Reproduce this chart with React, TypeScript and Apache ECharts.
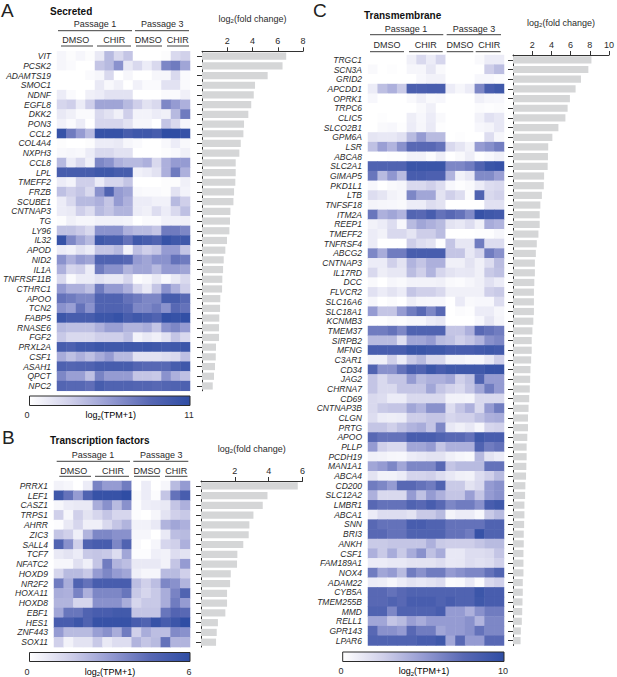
import * as echarts from 'echarts';
import { useEffect, useRef } from 'react';

const FONT = '"Liberation Sans", Arial, sans-serif';
const INK = '#2b2b2b';
const heatColors = ['#ffffff', '#d0d0ea', '#959bd2', '#5868b4', '#2f4da4'];

const samples = ['P1 DMSO a', 'P1 DMSO b', 'P1 DMSO c', 'P1 DMSO d', 'P1 CHIR a', 'P1 CHIR b', 'P1 CHIR c', 'P1 CHIR d', 'P3 DMSO a', 'P3 DMSO b', 'P3 DMSO c', 'P3 CHIR a', 'P3 CHIR b', 'P3 CHIR c'];

// A - secreted
const secretedGenes = ['VIT', 'PCSK2', 'ADAMTS19', 'SMOC1', 'NDNF', 'EGFL8', 'DKK2', 'PON3', 'CCL2', 'COL4A4', 'NXPH3', 'CCL8', 'LPL', 'TMEFF2', 'FRZB', 'SCUBE1', 'CNTNAP3', 'TG', 'LY96', 'IL32', 'APOD', 'NID2', 'IL1A', 'TNFRSF11B', 'CTHRC1', 'APOO', 'TCN2', 'FABP5', 'RNASE6', 'FGF2', 'PRXL2A', 'CSF1', 'ASAH1', 'QPCT', 'NPC2'];
const secretedFold = [6.67, 6.38, 5.2, 4.2, 4.1, 3.9, 3.67, 3.33, 3.28, 3.07, 2.96, 2.67, 2.67, 2.64, 2.54, 2.49, 2.25, 2.22, 2.17, 1.98, 1.85, 1.72, 1.67, 1.61, 1.59, 1.45, 1.43, 1.37, 1.35, 1.35, 1.11, 1.09, 1.03, 0.95, 0.85];
const secretedTpm = [
  [.5, .2, .5, .2, 1.3, 3.9, 2.2, 3.3, 0, 0, 0, .2, 2.2, 2.7],
  [.5, .3, 0, 0, 3.3, 3.9, 6, 1.3, 2.2, 1.1, 2.2, 6.6, 7.2, 5],
  [0, 0, 0, .3, .5, 2.2, 0, .5, 0, 0, .5, .5, 2.2, .3],
  [0, 0, 0, 0, 1.3, .4, .9, 0, .8, .3, .3, 1.7, 1.7, .3],
  [1.1, .3, 0, .9, 1.1, 1.7, 1.7, 1.7, 0, 0, 0, .3, .3, .9],
  [2.4, 2.8, 1.1, 2.8, 5, 5, 5, 3.9, 2.8, 1.7, 2.2, 6.6, 5.5, 4.4],
  [1.3, .9, .3, .3, 2.2, 1.7, .9, 2.8, .7, .7, 1.1, .9, 3.9, 7.2],
  [.8, .3, 1.1, 0, 2.4, 2.4, 2.4, 1.7, .5, .5, 0, 3.3, 2.2, .5],
  [10.5, 7.2, 5.5, 3.9, 10.5, 10.5, 10.5, 9.4, 9.9, 9.9, 9.4, 11, 11, 10.5],
  [.2, 0, 0, .2, 1.1, 1.1, 1.3, .5, .3, 0, 0, .4, 1.1, .4],
  [.4, .5, .4, 1.1, 2.2, 2.2, 1.7, 1.7, 0, 0, 0, .2, .4, .9],
  [3.9, 1.1, 2.2, .9, 6.6, 6, 4.4, 3.9, 3.9, 4.4, 2.2, 4.4, 5.5, 5.5],
  [9.4, 9.4, 9.4, 9.4, 9.9, 9.9, 9.4, 9.4, .8, 1.1, 1.7, 4.4, 7.2, 4.4],
  [1.1, .7, 2.8, 2.8, 1.1, 2.4, 2.4, 3.3, 0, 0, 0, .2, .2, .9],
  [3.6, 2.8, 3.3, 2.2, 6, 8.8, 5.5, 5, .4, .3, .3, .2, 1.7, .7],
  [1.1, 2.2, 3.9, 3.9, 4.4, 3.3, 5.5, 4.4, 1.1, 1.1, .8, .8, 3.9, 2.8],
  [1.1, 1.3, 2.8, 2, 3.9, 3.3, 4.2, 4.2, 1.1, .9, 2, 1.1, 2.2, 3.6],
  [.2, .9, .5, .5, .8, .8, .8, .7, 0, .3, .3, .8, .8, .9],
  [3.5, 3.5, 3, 2.2, 6, 6, 6, 4.4, 3.9, 3.9, 3.3, 7.2, 7.2, 6.6],
  [10.5, 6.6, 5, 3.9, 9.9, 9.4, 9.4, 7.7, 9.9, 9.4, 8.8, 10.5, 9.9, 9.9],
  [1.1, .8, 1.7, 1.1, 3.3, 3.3, 3.9, .7, 3.6, 2.8, 3.3, 5.5, 5.5, 3.3],
  [6, 4.4, 5.5, 5, 8.8, 8.8, 8.8, 8.3, 5.5, 5, 6, 6, 7.7, 7.2],
  [4.4, 2.4, 2.8, 1.1, 7.2, 6, 6, 4.2, 5, 5, 3.9, 5.5, 5.5, 5],
  [2.2, .3, 1.1, 1.1, 1.7, 1.3, 1.3, 2.4, .2, .5, 1.3, .4, 1.3, 2.2],
  [5.5, 4.4, 4.4, 3.6, 7.2, 5.5, 5.5, 4.4, 2.4, 1.3, 3.3, 6, 4.4, 2.8],
  [7.7, 7.2, 6.6, 6.6, 8.8, 8.8, 8.8, 7.7, 7.2, 6.6, 6.6, 9.4, 9.4, 8.3],
  [6, 5.3, 7.7, 6, 8.8, 8.8, 8.8, 8.3, 6.6, 6.6, 7.2, 6, 8.3, 7.7],
  [10.1, 9.4, 9.4, 9.4, 10.1, 10.1, 10.5, 9.4, 9.9, 9.4, 8.8, 10.8, 10.5, 10.8],
  [3.9, 3.6, 3.6, 3.6, 4.4, 5.3, 5.3, 4.2, 4.2, 4.6, 3.3, 6, 6.6, 5.5],
  [3.1, 2.2, 2.2, 2.2, 2.8, 2.8, 2.8, 3.6, .7, 1.3, .9, 1.7, 3.3, 2.2],
  [9.4, 9, 9.7, 9.7, 10.1, 9.9, 9.9, 9.9, 9.9, 10.1, 9.9, 9.7, 9.9, 10.1],
  [4.6, 3.6, 4.4, 3.6, 4.6, 5.5, 3.9, 3.9, 1.7, 1.7, 1.7, 2, 2.2, 3.6],
  [9, 8.6, 8.8, 8.8, 9.4, 9.4, 9.4, 9.4, 8.6, 8.3, 8.3, 8.3, 9.4, 9.9],
  [6.6, 5.3, 5.3, 3.6, 6.8, 5.5, 5.5, 5.5, 3.3, 3.3, 3.1, 6, 4.4, 3.6],
  [8.6, 8.3, 8.3, 7.9, 9.4, 8.8, 8.8, 8.8, 8.6, 8.6, 8.3, 8.6, 8.8, 9],
];

// B - transcription factors
const tfGenes = ['PRRX1', 'LEF1', 'CASZ1', 'TRPS1', 'AHRR', 'ZIC3', 'SALL4', 'TCF7', 'NFATC2', 'HOXD9', 'NR2F2', 'HOXA11', 'HOXD8', 'EBF1', 'HES1', 'ZNF443', 'SOX11'];
const tfFold = [5.72, 3.93, 3.65, 3.1, 2.86, 2.82, 2.5, 2.15, 2.13, 1.76, 1.72, 1.54, 1.54, 1.44, 1.0, 0.93, 0.89];
const tfTpm = [
  [.4, .3, 0, .6, 3.7, 3, 3, 3.9, 0, .6, 0, .3, 2.1, 3],
  [5.4, 4.2, 3, 4.8, 5.7, 5.7, 5.7, 6, .2, .6, .1, 1.8, 4.2, 5.1],
  [.3, .6, .7, .7, 2.5, 3.3, 2.1, 3.3, .1, .5, .6, .7, 1.8, 2.4],
  [1.5, .3, 1.5, .9, 1.3, 1.8, 1.3, 1.3, .1, 0, .3, .9, 1.5, 1.7],
  [.1, .7, 1.3, .5, .5, 1.2, 1.8, 2.3, .4, .4, .7, 2.3, 2.7, 2.4],
  [1.8, 1.5, .5, 2.3, 3.6, 3.6, 3.3, 3.3, .3, .3, 0, .7, 2, 2.1],
  [4.8, 3.3, 1.5, 4.8, 5.1, 5.1, 3.6, 4.8, .2, 0, .3, 1.3, 1.5, 2.4],
  [.7, .9, .6, 1.7, 1.8, 1.7, 1.1, 2.7, .1, .1, .5, .4, 1.1, .9],
  [.3, .3, 1, .5, 1.8, 3.9, 2.3, 2, .7, .7, .7, .4, 1.8, 3],
  [1.3, 2.1, 2.1, 1.7, 3, 3.6, 3, 2.7, .5, .3, .3, 2.1, 2.1, 1.5],
  [3.9, 2.5, 4.8, 4.2, 5.1, 5.1, 5.1, 5.1, 2, 1.5, 2, 3.6, 3.3, 2.3],
  [2.5, 2.4, 3.7, 2.4, 3.6, 3.6, 3.6, 4.1, 1.7, 1.3, 1.7, 2.5, 3.7, 4.8],
  [2.3, 2.3, 1.3, 1.3, 3.3, 3.3, 3.3, 2.5, 1.3, 1.7, 1.7, 2.5, 3.9, 3],
  [2.7, 4.1, 4.1, 4.8, 5.1, 5.1, 5.3, 5.3, 1.8, 1.8, 1.8, 4.1, 4.7, 4.5],
  [5.1, 5.1, 5.5, 4.8, 5.7, 5.7, 5.7, 5.7, 5.1, 4.8, 5.7, 5.1, 5.5, 6],
  [3, 2.1, 2.1, 2.1, 2.9, 3.3, 2.5, 3.9, 1.5, 2.5, 2, 2, 3.5, 3.3],
  [1.5, .4, .9, .9, 1.7, .7, 1.1, 1.1, 2.3, 1.8, 2.1, 4.2, 2.3, 2.3],
];

// C - transmembrane
const tmGenes = ['TRGC1', 'SCN3A', 'GRID2', 'APCDD1', 'OPRK1', 'TRPC6', 'CLIC5', 'SLCO2B1', 'GPM6A', 'LSR', 'ABCA8', 'SLC2A1', 'GIMAP5', 'PKD1L1', 'LTB', 'TNFSF18', 'ITM2A', 'REEP1', 'TMEFF2', 'TNFRSF4', 'ABCG2', 'CNTNAP3', 'IL17RD', 'DCC', 'FLVCR2', 'SLC16A6', 'SLC18A1', 'KCNMB3', 'TMEM37', 'SIRPB2', 'MFNG', 'C3AR1', 'CD34', 'JAG2', 'CHRNA7', 'CD69', 'CNTNAP3B', 'CLGN', 'PRTG', 'APOO', 'PLLP', 'PCDH19', 'MAN1A1', 'ABCA4', 'CD200', 'SLC12A2', 'LMBR1', 'ABCA1', 'SNN', 'BRI3', 'ANKH', 'CSF1', 'FAM189A1', 'NOX4', 'ADAM22', 'CYB5A', 'TMEM255B', 'MMD', 'RELL1', 'GPR143', 'LPAR6'];
const tmFold = [8.17, 7.85, 7.08, 6.52, 5.93, 5.69, 5.46, 4.73, 4.1, 3.67, 3.64, 3.61, 3.24, 3.21, 3.01, 2.85, 2.78, 2.78, 2.65, 2.48, 2.38, 2.28, 2.28, 2.22, 2.18, 2.18, 2.18, 2.12, 2.02, 1.95, 1.95, 1.89, 1.82, 1.79, 1.75, 1.69, 1.62, 1.56, 1.56, 1.49, 1.42, 1.42, 1.39, 1.36, 1.29, 1.26, 1.19, 1.19, 1.16, 1.12, 1.12, 1.09, 1.09, 1.09, 1.02, 1.02, 0.99, 0.96, 0.92, 0.82, 0.79];
const tmTpm = [
  [0, 0, 0, 0, .8, 2, 1, 2.2, 0, 0, 0, .3, 1, 1],
  [.3, 0, .1, 0, .5, .5, 1.3, .3, 0, 0, 0, 0, 2.6, 3.4],
  [0, 0, 0, 0, 0, .4, .7, .7, 0, 0, 0, .4, .4, .2],
  [1, 3.3, 4, 2.8, 8.3, 8.3, 8.5, 8.5, 1, .5, 1, 6, 8.5, 9],
  [.4, 0, 0, 0, .3, .8, .3, .4, 0, 0, 0, .8, .5, .4],
  [0, 0, 0, 0, 0, .3, .8, 0, 0, 0, 0, .2, .1, .2],
  [0, .1, 0, 0, .9, .4, 1, .3, 0, 0, 0, .7, 1.6, 1.2],
  [0, .3, .4, .1, 1, .5, 1.1, .1, 0, 0, 0, .4, .6, 1.2],
  [1.4, 1.2, 1.2, 1.6, 3.5, 5, 3.5, 3.5, 0, .1, 0, 0, 1.8, .5],
  [3.2, 4.8, 3.8, 5.5, 7.5, 7.5, 7.5, 7, 2, 1.4, .7, 5, 5.6, 6.4],
  [0, 0, .1, .1, .7, .7, .2, .9, 0, .3, .9, .1, .4, .8],
  [8, 8, 8, 8, 9.3, 9.3, 9.3, 9.3, 6, 6, 6.5, 8, 9.3, 9.6],
  [6.8, 3.5, 5.2, 3.5, 8.5, 8.5, 8.2, 8.2, 3.8, .7, 1.2, 5.8, 5.8, 4.8],
  [.4, 0, .3, .5, 2, 2, 2.5, 1.8, .4, .1, .3, 1, 1.8, 2],
  [1.8, 1.4, .7, .5, 6, 4.5, 4.5, 1.5, 2.5, 1.8, .2, 8, 2, 2.4],
  [.6, .5, .4, .3, 1, 1, 1.8, 1.5, 0, 0, 0, 0, 1.6, 1.6],
  [6.8, 4, 4.5, 3.8, 7.8, 7.5, 8.5, 7, 7.5, 7, 5.8, 9.5, 9, 8.8],
  [.7, 1, 1.8, .4, 3.5, 4.5, 4, 3.5, 1.5, 1.2, 1.8, .8, 4.2, 3.8],
  [1, .7, 2, 2, 1.4, 2.6, 2.6, 3.4, 0, 0, 0, .1, .1, .5],
  [1, 0, 0, 0, 2.6, 1.8, 1.5, .1, 3, 1.3, 1.3, 6.5, 1.8, 1.8],
  [6, 4.2, 6.5, 6.5, 8.5, 8.5, 8.5, 8.5, 3, 3, 1.2, 2.2, 6.5, 5.5],
  [1, 1, 2.5, 1.5, 3.8, 3, 4, 4, .8, .8, 1.5, .8, 1.8, 3.4],
  [2, .9, 1.3, 1.3, 3.4, 2.5, 3.8, 2.2, 1.5, 1.2, 1.3, .8, 2.8, 3.2],
  [.3, 0, .5, .3, .7, .7, .7, .8, .3, .2, .5, .8, 1.6, 1],
  [1.6, 1, 1.5, 1, 3, 2.5, 2.5, 2, .8, .8, .8, .8, 2.5, 2.8],
  [.5, 0, .2, 0, .9, .5, .4, .4, 0, 1.1, .3, .4, .4, 1.8],
  [5, 3, 3, 5, 6.5, 7.5, 6, 7.5, 0, .2, .1, 1, 1, .5],
  [.1, .1, .3, .2, .5, .5, 1, 1.3, 0, 0, 0, .4, 1.4, .6],
  [6.5, 6.5, 7, 6, 8, 8, 8, 8, 3, 3, 4, 7.5, 7, 6.5],
  [3.5, 3.5, 3.5, 1.7, 4.5, 4.5, 5, 3.5, 3.2, 2.5, 3, 3.8, 5.5, 6],
  [8.5, 8.5, 8.5, 8.5, 9.3, 9.3, 9, 9, 8.5, 8.5, 8.5, 8.8, 9, 8.8],
  [.8, .8, 2.5, 1, 2.8, 3.5, 2, 2, .7, .7, .5, .5, 1.2, 2.5],
  [8, 5.5, 5.5, 7, 8.5, 8, 9.2, 8.5, 9, 9, 9, 9, 9.5, 9.5],
  [3, 2, 3, 3, 5, 3.5, 4, 4, 4.5, 2.5, 3.2, 8, 5, 5],
  [3, 2, 2, 3, 3, 3, 4.5, 3, 2.4, 2, 3, 4.5, 6.5, 5],
  [2, 1.8, 1, 1, 2, 2, 2, 2, .7, .7, .6, 2, 2, 2],
  [2, 2.8, 3, 3, 4.5, 3.8, 5.5, 5.5, 1.8, 3, 4, 2, 5, 6.5],
  [1.8, 1, .9, 1, 2.6, 2.6, 3, 3, 2.2, 2.5, 2.5, 3.2, 4, 4.2],
  [3, 3, 2.5, 3.2, 3.8, 4.2, 3, 6, 1.2, .8, 1.2, .5, 2.2, 2.4],
  [7.5, 7, 7, 7, 8.5, 8.5, 8.5, 8, 7.5, 7.5, 7, 9, 8.5, 8.5],
  [5, 2.5, 2, 2, 4.5, 4.5, 5, 3, 4, 4, 4, 8, 6.5, 7],
  [.8, .7, .5, .4, 1, 1.2, 1.5, 1.5, .8, .5, .3, 3.6, 1.5, 1],
  [4.5, 5, 6, 4.5, 6, 6, 6, 7.5, 3, 3.5, 3.5, 3.5, 7, 7],
  [1.5, .7, .7, 1, 2.3, 2.3, 2.5, 1.8, 1.2, .8, .7, 1.8, 2.5, 3.5],
  [6.5, 6, 5, 7.5, 7.5, 7, 6.5, 8, 2.8, 2.8, 1.5, 2, 5, 5.5],
  [4, 2, 2, 2, 5, 3.2, 5, 4, 3, 3, 4.8, 3, 5, 5.5],
  [7.5, 7, 7, 7, 8, 7.5, 8.5, 7.5, 6, 6.5, 6.5, 5.5, 8.5, 9],
  [1, 1.8, 1.8, 1.8, 1.5, 2.8, 2.8, 3.5, .6, 1, 1, .4, 2.8, 3.5],
  [7.5, 7, 7, 7, 8.5, 8.5, 8, 8, 7, 7, 7, 7, 8, 8],
  [7.5, 7.5, 7, 7, 8, 8, 8, 8, 7, 7, 6.5, 9.5, 8, 8],
  [2.8, 2.8, 3, 3, 3, 3, 4, 2.8, 2.6, 2.6, 2.6, 3, 3.5, 3.5],
  [4, 2.8, 4.2, 2.8, 4.2, 5.5, 3.2, 4.2, 1.2, 1.2, 1.8, 1.8, 2, 3],
  [1, 1, 1.2, 1.2, 1.5, 1.5, 1.5, 1.8, 1.2, 1.3, 1.8, 1.6, 1.8, 2.5],
  [6.5, 4.5, 5, 3.5, 6.5, 5.5, 6.5, 6.5, 5, 5.5, 6, 6, 7, 8],
  [1, .9, .5, 1, 1.5, 1.2, 1.5, 1.8, .2, .3, 1.1, .2, 2, 2.5],
  [7.5, 7.5, 7, 7.5, 8, 8, 8, 8, 8, 8, 8, 9.2, 8.5, 8.5],
  [7.5, 7.5, 8, 7.5, 8.5, 8.5, 8.5, 8, 8.5, 8, 8, 9, 8.5, 8.5],
  [8, 8, 6, 8, 8, 8, 8, 8.5, 5, 5, 4, 5.5, 6.5, 6.5],
  [4.5, 4.5, 3, 3.5, 4.8, 4.2, 5, 5, 5, 5, 5.5, 3.8, 6, 6],
  [7.5, 5.5, 5.5, 5, 7.5, 6.5, 6.5, 4.5, 5, 5, 5.5, 7, 6, 6],
  [8, 8, 8, 8, 8, 8.5, 8.5, 9, 4.5, 7.5, 5, 5, 7.5, 7.5],
];

const panels = [
  {
    letter: 'A', letterX: 1, letterY: 10, title: 'Secreted', titleX: 50, titleY: 11,
    genes: secretedGenes, fold: secretedFold, tpm: secretedTpm, foldMax: 8, tpmMax: 11, foldTicks: [2, 4, 6, 8],
    heatLeft: 54, barLeft: 202, barWidth: 101, top: 51.3, rowH: 9.7,
    passageY: 24, passageLineY: 30.7, groupY: 40, groupLineY: 46,
    passages: [[95, 'Passage 1', 58, 132], [162.3, 'Passage 3', 135, 189]],
    groups: [[75.7, 'DMSO', 61, 93], [114.3, 'CHIR', 97, 131], [148.3, 'DMSO', 136, 162], [177.7, 'CHIR', 167, 189]],
    cbLeft: 29.5, cbRight: 190, cbTop: 396, cbBottom: 405.5, cbLabelY: 415, cbMid: 110.7, cbZeroX: 27,
  },
  {
    letter: 'B', letterX: 2, letterY: 437, title: 'Transcription factors', titleX: 50, titleY: 440,
    genes: tfGenes, fold: tfFold, tpm: tfTpm, foldMax: 6, tpmMax: 6, foldTicks: [2, 4, 6],
    heatLeft: 54, barLeft: 201, barWidth: 101.5, top: 481, rowH: 9.77,
    passageY: 455, passageLineY: 461.3, groupY: 471, groupLineY: 476.3,
    passages: [[93, 'Passage 1', 56.7, 130], [161.3, 'Passage 3', 133.3, 188.3]],
    groups: [[73.7, 'DMSO', 59.3, 91], [113, 'CHIR', 95, 129], [147, 'DMSO', 134, 160], [176.3, 'CHIR', 165, 187.5]],
    cbLeft: 29.5, cbRight: 190, cbTop: 652.5, cbBottom: 661.5, cbLabelY: 671.5, cbMid: 110, cbZeroX: 27,
  },
  {
    letter: 'C', letterX: 313, letterY: 10, title: 'Transmembrane', titleX: 364, titleY: 15,
    genes: tmGenes, fold: tmFold, tpm: tmTpm, foldMax: 10, tpmMax: 10, foldTicks: [2, 4, 6, 8, 10],
    heatLeft: 368, barLeft: 513, barWidth: 101, top: 55, rowH: 9.68,
    passageY: 28.7, passageLineY: 34.7, groupY: 45, groupLineY: 51.7,
    passages: [[406, 'Passage 1', 370, 443.3], [474, 'Passage 3', 446.7, 501]],
    groups: [[387, 'DMSO', 370, 404], [425.7, 'CHIR', 409, 442.7], [460, 'DMSO', 446.7, 473.3], [489.3, 'CHIR', 475.7, 500.7]],
    cbLeft: 342.7, cbRight: 504, cbTop: 652, cbBottom: 661.5, cbLabelY: 671, cbMid: 424, cbZeroX: 341,
  },
];

const subRich = {
  a: { fontFamily: FONT, fontSize: 9, color: INK },
  s: { fontFamily: FONT, fontSize: 6, color: INK, padding: [5, 0, 0, 0] },
};

function label(text: string, x: number, y: number, extra: any = {}) {
  return {
    type: 'text', silent: true,
    style: { text, x, y, align: 'center', verticalAlign: 'middle', font: `9px ${FONT}`, fill: INK, ...extra },
  };
}

function hline(x1: number, x2: number, y: number) {
  return { type: 'line', silent: true, shape: { x1, y1: y, x2, y2: y }, style: { stroke: INK, lineWidth: 0.9 } };
}

function buildOption() {
  const grid: any[] = [];
  const xAxis: any[] = [];
  const yAxis: any[] = [];
  const series: any[] = [];
  const visualMap: any[] = [];
  const graphic: any[] = [];

  panels.forEach((p, idx) => {
    const height = p.rowH * p.genes.length;
    const heatIdx = idx * 2;
    const barIdx = idx * 2 + 1;
    grid.push({ left: p.heatLeft, top: p.top, width: 136, height });
    grid.push({ left: p.barLeft, top: p.top, width: p.barWidth, height });

    xAxis.push({ type: 'category', gridIndex: heatIdx, data: samples, show: false });
    yAxis.push({
      type: 'category', gridIndex: heatIdx, data: p.genes, inverse: true,
      axisLine: { show: false }, axisTick: { show: false }, splitArea: { show: false },
      axisLabel: { interval: 0, margin: 6, padding: [0, 0, 1, 0], fontFamily: FONT, fontSize: 8.5, fontStyle: 'italic', color: INK },
    });
    const cells: number[][] = [];
    p.tpm.forEach((row, r) => row.forEach((v, c) => cells.push([c, r, v])));
    series.push({
      type: 'heatmap', name: p.title, xAxisIndex: heatIdx, yAxisIndex: heatIdx,
      data: cells, emphasis: { disabled: true },
    });
    visualMap.push({
      show: false, seriesIndex: heatIdx, min: 0, max: p.tpmMax, dimension: 2,
      inRange: { color: heatColors },
    });

    xAxis.push({
      type: 'value', gridIndex: barIdx, position: 'top', min: 0, max: p.foldMax, interval: 2,
      name: '{a|log}{s|2}{a|(fold change)}', nameLocation: 'middle', nameGap: 27,
      nameTextStyle: { rich: subRich },
      splitLine: { show: false },
      axisLine: { show: true, lineStyle: { color: '#333', width: 1 } },
      axisTick: { show: true, length: 4, customValues: p.foldTicks, lineStyle: { color: '#333', width: 1 } },
      axisLabel: { customValues: p.foldTicks, margin: 6, fontFamily: FONT, fontSize: 9, color: INK },
    });
    yAxis.push({
      type: 'category', gridIndex: barIdx, data: p.genes, inverse: true,
      axisLine: { show: true, lineStyle: { color: '#333', width: 1 } },
      axisTick: { show: true, length: 5, alignWithLabel: true, interval: 0, lineStyle: { color: '#333', width: 1 } },
      axisLabel: { show: false },
    });
    series.push({
      type: 'bar', name: p.title + ' fold', xAxisIndex: barIdx, yAxisIndex: barIdx,
      data: p.fold, barWidth: 7.2, itemStyle: { color: '#d5d6d7' }, silent: true,
    });

    // panel furniture
    graphic.push(label(p.letter, p.letterX, p.letterY, { align: 'left', font: `19px ${FONT}`, fill: '#222' }));
    graphic.push(label(p.title, p.titleX, p.titleY, { align: 'left', font: `bold 10px ${FONT}`, fill: '#111' }));
    p.passages.forEach(([cx, text, x1, x2]: any) => {
      graphic.push(label(text, cx, p.passageY));
      graphic.push(hline(x1, x2, p.passageLineY));
    });
    p.groups.forEach(([cx, text, x1, x2]: any) => {
      graphic.push(label(text, cx, p.groupY));
      graphic.push(hline(x1, x2, p.groupLineY));
    });

    // colour bar
    graphic.push({
      type: 'rect', silent: true,
      shape: { x: p.cbLeft, y: p.cbTop, width: p.cbRight - p.cbLeft, height: p.cbBottom - p.cbTop },
      style: {
        stroke: '#2a2a2a', lineWidth: 1,
        fill: new echarts.graphic.LinearGradient(0, 0, 1, 0, heatColors.map((color, i) => ({ offset: i / (heatColors.length - 1), color }))),
      },
    });
    graphic.push(label('0', p.cbZeroX, p.cbLabelY));
    graphic.push(label(String(p.tpmMax), p.cbRight - 1, p.cbLabelY));
    graphic.push({
      type: 'text', silent: true,
      style: { text: '{a|log}{s|2}{a|(TPM+1)}', x: p.cbMid, y: p.cbLabelY, align: 'center', verticalAlign: 'middle', rich: subRich },
    });
  });

  return { animation: false, backgroundColor: '#ffffff', grid, xAxis, yAxis, series, visualMap, graphic };
}

export default function App() {
  const chartRef = useRef<HTMLDivElement>(null);

  useEffect(() => {
    if (!chartRef.current) return;
    const chart = echarts.init(chartRef.current, null, { renderer: 'svg' });
    chart.setOption(buildOption() as any);
    return () => chart.dispose();
  }, []);

  return <div ref={chartRef} style={{ position: 'absolute', left: 0, top: 0, width: 617, height: 677 }} />;
}
